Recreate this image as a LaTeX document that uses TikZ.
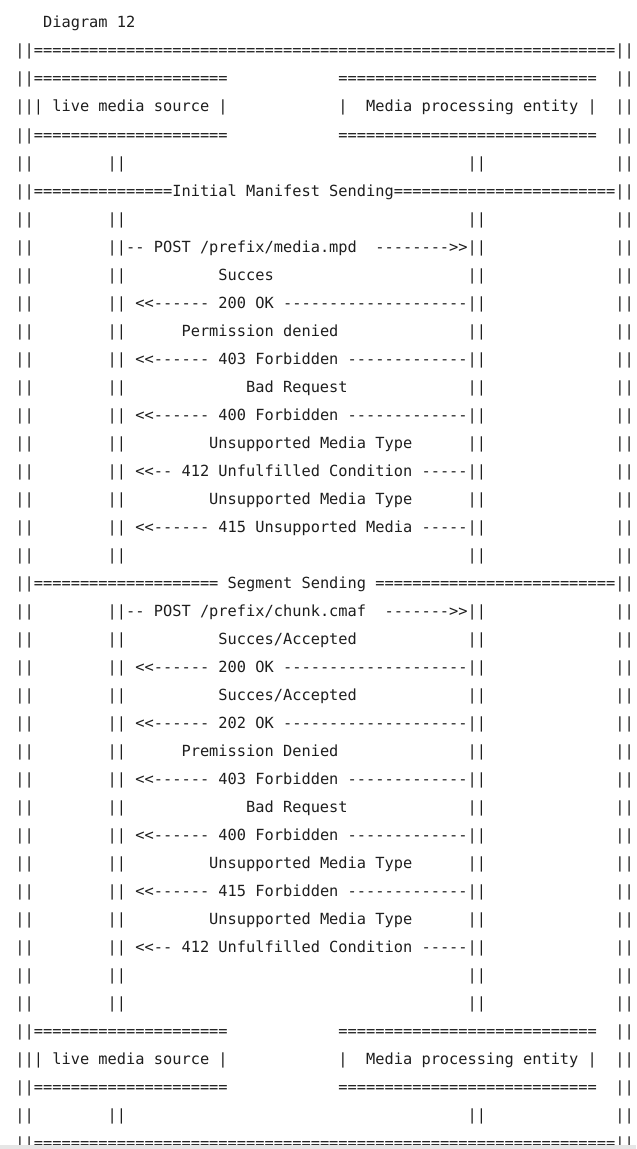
\documentclass[tikz,border=0pt]{standalone}
\usepackage{fontspec}
\setmonofont{DejaVu Sans Mono}
\ExplSyntaxOn
\cs_new:Npn \eqrun #1 { \prg_replicate:nn {#1} {=} }
\ExplSyntaxOff
\definecolor{ink}{HTML}{1E1E1E}
\definecolor{band}{HTML}{E6E6E6}
\begin{document}
\begin{tikzpicture}[x=0.75pt,y=-0.75pt,
  txt/.style={anchor=base west,inner sep=0pt,outer sep=0pt,text=ink,
    font=\ttfamily\frenchspacing\fontsize{11.5pt}{14pt}\selectfont},
  % character grid: column width 9.23, row pitch 28
  cell/.style 2 args={at={({15.4+9.23*(#2)},{28+28*(#1)})}}]
\fill[white] (0,0) rectangle (636,1149);
\useasboundingbox (0,0) rectangle (636,1149);

\node[txt,cell={0}{3}] (title) {Diagram 12};

% full-width rules
\node[txt,cell={1}{0}] (topRule) {||\eqrun{63}||};
\node[txt,cell={6}{0}] (manifestRule) {||\eqrun{15}Initial Manifest Sending\eqrun{24}||};
\node[txt,cell={20}{0}] (segmentRule) {||\eqrun{20} Segment Sending \eqrun{26}||};
\node[txt,cell={40}{0}] (bottomRule) {||\eqrun{63}||};

% participant boxes
\foreach \r/\t in {2/a,4/b,36/c,38/d}{
  \node[txt,cell={\r}{0}] (srcRule\t) {||\eqrun{21}};
  \node[txt,cell={\r}{35}] (mpeRule\t) {\eqrun{28}};
}
\foreach \r/\t in {3/top,37/bottom}{
  \node[txt,cell={\r}{0}] (src\t) {||| live media source |};
  \node[txt,cell={\r}{35}] (mpeBar\t) {|};
  \node[txt,cell={\r}{38}] (mpe\t) {Media processing entity |};
}

% outer frame bars
\foreach \r in {5,7,8,...,19,21,22,...,35,39}
  \node[txt,cell={\r}{0}] (frameL\r) {||};
\foreach \r in {2,3,4,5,7,8,...,19,21,22,...,39}
  \node[txt,cell={\r}{65}] (frameR\r) {||};

% lifelines
\foreach \r in {5,7,9,11,13,15,17,19,22,24,26,28,30,32,34,35,39}{
  \node[txt,cell={\r}{10}] (lifeSrc\r) {||};
  \node[txt,cell={\r}{49}] (lifeMpe\r) {||};
}

% initial manifest sending
\node[txt,cell={8}{10}] (postMpd) {||-- POST /prefix/media.mpd};
\node[txt,cell={8}{39}] (postMpdTip) {-------->>||};
\node[txt,cell={9}{22}] (lblOk) {Succes};
\node[txt,cell={10}{10}] (mOk) {|| <<------ 200 OK --------------------||};
\node[txt,cell={11}{18}] (lblDenied) {Permission denied};
\node[txt,cell={12}{10}] (mForbidden) {|| <<------ 403 Forbidden -------------||};
\node[txt,cell={13}{25}] (lblBad) {Bad Request};
\node[txt,cell={14}{10}] (mBad) {|| <<------ 400 Forbidden -------------||};
\node[txt,cell={15}{21}] (lblType) {Unsupported Media Type};
\node[txt,cell={16}{10}] (mCond) {|| <<-- 412 Unfulfilled Condition -----||};
\node[txt,cell={17}{21}] (lblTypeB) {Unsupported Media Type};
\node[txt,cell={18}{10}] (mUnsup) {|| <<------ 415 Unsupported Media -----||};

% segment sending
\node[txt,cell={21}{10}] (postCmaf) {||-- POST /prefix/chunk.cmaf};
\node[txt,cell={21}{40}] (postCmafTip) {------->>||};
\node[txt,cell={22}{22}] (sLblOk) {Succes/Accepted};
\node[txt,cell={23}{10}] (sOk) {|| <<------ 200 OK --------------------||};
\node[txt,cell={24}{22}] (sLblAcc) {Succes/Accepted};
\node[txt,cell={25}{10}] (sAcc) {|| <<------ 202 OK --------------------||};
\node[txt,cell={26}{18}] (sLblDenied) {Premission Denied};
\node[txt,cell={27}{10}] (sForbidden) {|| <<------ 403 Forbidden -------------||};
\node[txt,cell={28}{25}] (sLblBad) {Bad Request};
\node[txt,cell={29}{10}] (sBad) {|| <<------ 400 Forbidden -------------||};
\node[txt,cell={30}{21}] (sLblType) {Unsupported Media Type};
\node[txt,cell={31}{10}] (sUnsup) {|| <<------ 415 Forbidden -------------||};
\node[txt,cell={32}{21}] (sLblTypeB) {Unsupported Media Type};
\node[txt,cell={33}{10}] (sCond) {|| <<-- 412 Unfulfilled Condition -----||};

% strip along the lower edge
\fill[band] (0,1145) rectangle (636,1149);
\end{tikzpicture}
\end{document}
